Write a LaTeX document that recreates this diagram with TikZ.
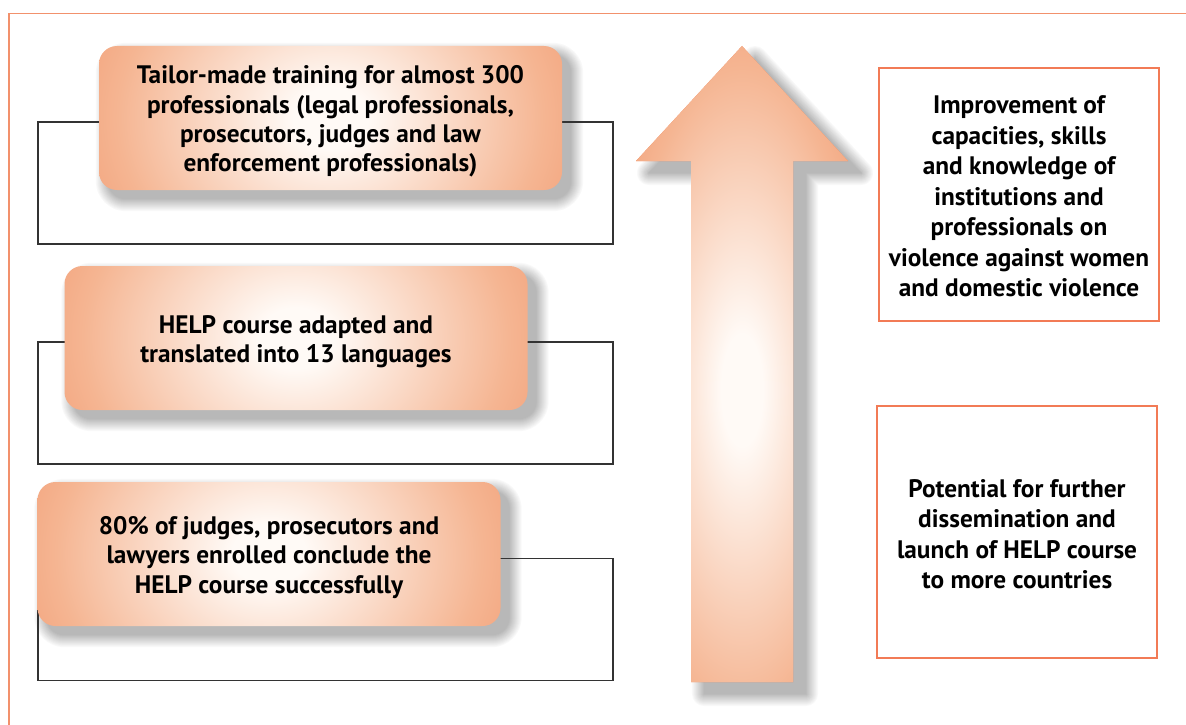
\documentclass[tikz,border=0pt]{standalone}
\usepackage{fontspec}
\setmainfont{PT Sans}
\usetikzlibrary{backgrounds}
\definecolor{frameor}{HTML}{F2916C}
\definecolor{rboxor}{HTML}{F27B56}
\definecolor{boxor}{HTML}{EE8052}
\definecolor{boxmid}{HTML}{F5B592}
\definecolor{boxlt}{HTML}{FFFAF6}
\definecolor{rectln}{HTML}{333333}
\pgfdeclareradialshading{peachbox}{\pgfpoint{0bp}{0bp}}{color(0bp)=(boxlt); color(4bp)=(boxlt); color(23bp)=(boxmid); color(41bp)=(boxor); color(50bp)=(boxor)}
\newcommand\ltop{\rule{0pt}{25pt}}
\newcommand\rtop{\rule{0pt}{22pt}}
\tikzset{
  obox/.style={rounded corners=18pt, inner sep=0pt,
    minimum width=463pt, minimum height=144pt, align=center,
    font=\bfseries\fontsize{25.3}{29.4}\selectfont,
    path picture={\shade[shading=peachbox]
      ([yshift=-190pt]path picture bounding box.west) rectangle
      ([yshift=190pt]path picture bounding box.east);}},
  rbox/.style={draw=rboxor, line width=1.3pt, inner sep=0pt, align=center,
    font=\bfseries\fontsize{25.3}{30.5}\selectfont},
  rectbox/.style={draw=rectln, line width=1.1pt, inner sep=0pt,
    minimum width=575pt, minimum height=122pt},
  frameline/.style={draw=frameor, line width=1.2pt},
  bigarrow/.style={fill=boxor,
    path picture={\shade[shading=peachbox] (612,40) rectangle (872,740);}}
}
\begin{document}
\begin{tikzpicture}[x=1pt,y=-1pt]
\useasboundingbox (0,0) rectangle (1186,725);
\draw[frameline] (9,725) -- (9,13.5) -- (1186,13.5);

% orange boxes
\node[obox] (a) at (330.5,118) {\ltop Tailor-made training for almost 300\\professionals (legal professionals,\\prosecutors, judges and law\\enforcement professionals)};
\node[obox] (b) at (296,338) {\ltop HELP course adapted and\\translated into 13 languages};
\node[obox] (c) at (269,554) {\ltop 80\% of judges, prosecutors and\\lawyers enrolled conclude the\\HELP course successfully};

% arrow
\coordinate (tip) at (742,46);
\path[bigarrow]
  (tip) -- (848,161) -- (793,161) -- (793,682) -- (691,682) -- (691,161) -- (636,161) -- cycle;

% right boxes
\node[rbox, minimum width=280pt, minimum height=253pt] (r1) at (1019,194.5) {\rtop Improvement of\\capacities, skills\\and knowledge of\\institutions and\\professionals on\\violence against women\\and domestic violence};
\node[rbox, minimum width=280pt, minimum height=252pt] (r2) at (1017,532) {\rtop Potential for further\\dissemination and\\launch of HELP course\\to more countries};

\begin{scope}[on background layer]
  % box shadows
  \foreach \n in {a,b,c}{
    \foreach \e in {12,11,...,0}{
      \pgfmathsetmacro\pc{28*(13-\e)/13}
      \pgfmathsetmacro\rc{18+\e}
      \fill[black!\pc!white, rounded corners=\rc pt]
        ([shift={(9-\e,9-\e)}]\n.north west) rectangle ([shift={(9+\e,9+\e)}]\n.south east);
    }
  }
  % arrow shadow
  \foreach \e in {12,11,...,0}{
    \pgfmathsetmacro\pc{28*(13-\e)/13}
    \pgfmathsetmacro\lw{2*\e+0.1}
    \filldraw[black!\pc!white, line width=\lw pt, line join=round, shift={(13,12)}]
      (742,46) -- (848,161) -- (793,161) -- (793,682) -- (691,682) -- (691,161) -- (636,161) -- cycle;
  }
  % black rectangles
  \node[rectbox] (q1) at (325.5,183) {};
  \node[rectbox] (q2) at (325.5,403) {};
  \node[rectbox] (q3) at (325.5,619.5) {};
\end{scope}
\end{tikzpicture}
\end{document}
